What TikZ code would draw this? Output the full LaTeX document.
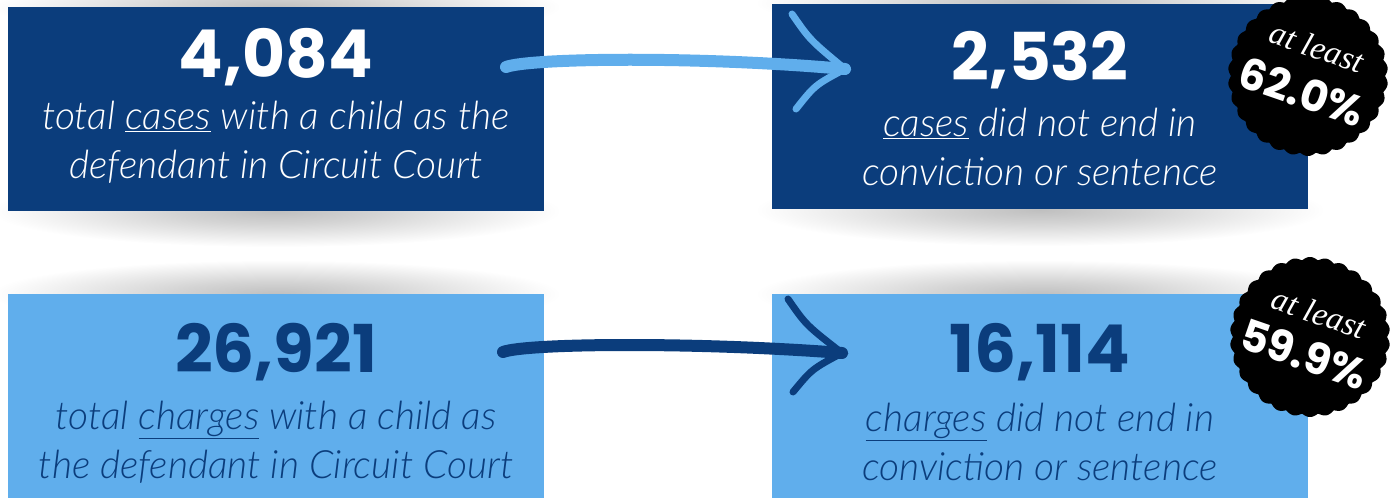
\documentclass[tikz,border=0pt]{standalone}
\usepackage{fontspec}
\usepackage{tikz}
\usetikzlibrary{positioning,calc}

\definecolor{navy}{RGB}{11,61,124}
\definecolor{sky}{RGB}{96,174,236}

\newfontfamily\numfont{Poppins}
\newfontfamily\capfont{Lato}[UprightFont={* Light Italic}]
\newfontfamily\tagfont{Liberation Serif}

\pgfdeclareradialshading{boxshadow}{\pgfpoint{0bp}{0bp}}{color(0bp)=(black!25); color(9bp)=(black!17); color(25bp)=(white); color(50bp)=(white)}

\begin{document}
\begin{tikzpicture}[x=1pt,y=-1pt,
  box/.style={minimum width=536pt,minimum height=204pt,inner sep=0pt},
  num/.style={font=\numfont\bfseries\fontsize{66}{66}\selectfont},
  captext/.style={font=\capfont\fontsize{39}{49}\selectfont,align=center},
  boxshade/.style={shading=boxshadow},
  brush/.style={line width=12pt,line cap=round},
  headline/.style={line width=7pt,line cap=round},
  tag/.style={font=\tagfont\itshape\fontsize{33}{33}\selectfont,text=white,rotate=-19},
  pct/.style={font=\numfont\bfseries\fontsize{43}{43}\selectfont,text=white,rotate=-19}]
   \path[use as bounding box,clip] (0,0) rectangle (1398,500);

   % shadows
   \shade[boxshade] (276,211) ellipse (285 and 36);
   \shade[boxshade] (1040,210) ellipse (285 and 36);
   \shade[boxshade] (276,294) ellipse (285 and 34);
   \shade[boxshade] (1040,294) ellipse (285 and 34);
   \shade[boxshade] (276,7) ellipse (285 and 30);
   \shade[boxshade] (1040,3) ellipse (285 and 30);

   % cases
   \node[box,fill=navy] (cases) at (276,109) {};
   \node[box,fill=navy] (caseso) at (1040,106.5) {};
   \node[num,text=white] (n1) at (276,57) {4,084};
   \node[captext,text=white] (c1) at (276,142) {total \underline{cases} with a child as the\\defendant in Circuit Court};
   \node[num,text=white] (n2) at (1040,60) {2,532};
   \node[captext,text=white] (c2) at (1040,147) {\underline{cases} did not end in\\conviction or sentence};

   % charges
   \node[box,fill=sky] (charges) at (276,396) {};
   \node[box,fill=sky] (chargeso) at (1040,396) {};
   \node[num,text=navy] (n3) at (276,352) {26,921};
   \node[captext,text=navy] (c3) at (276,442) {total \underline{charges} with a child as\\the defendant in Circuit Court};
   \node[num,text=navy] (n4) at (1040,352) {16,114};
   \node[captext,text=navy] (c4) at (1040,442) {\underline{charges} did not end in\\conviction or sentence};

   % arrows
   \coordinate (a1s) at (506,67);
   \coordinate (a1t) at (845,69);
   \coordinate (a1u) at (792,14);
   \coordinate (a1d) at (796,109);
   \coordinate (a2s) at (503,352);
   \coordinate (a2t) at (842,353);
   \coordinate (a2u) at (788,299);
   \coordinate (a2d) at (793,392);
   \draw[brush,sky] (a1s) .. controls (530,58) and (700,56) .. (a1t);
   \draw[headline,sky] (a1u) .. controls (810,40) .. (a1t) .. controls (815,85) .. (a1d);
   \draw[brush,navy] (a2s) .. controls (527,343) and (700,342) .. (a2t);
   \draw[headline,navy] (a2u) .. controls (806,325) .. (a2t) .. controls (812,369) .. (a2d);

   % badges
   \coordinate (b1) at (1308,76);
   \coordinate (b2) at (1310,337);
   \foreach \b in {b1,b2}
     \fill[black,shift={(\b)}] plot[domain=0:360,samples=600,variable=\t]
       ({(77+3*abs(sin(15*\t)))*cos(\t)},{(77+3*abs(sin(15*\t)))*sin(\t)}) -- cycle;
   \node[tag] (t1) at (1317,47) {at least};
   \node[pct] (p1) at (1302,92) {62.0\%};
   \node[tag] (t2) at (1319,313) {at least};
   \node[pct] (p2) at (1304,354) {59.9\%};
\end{tikzpicture}
\end{document}
